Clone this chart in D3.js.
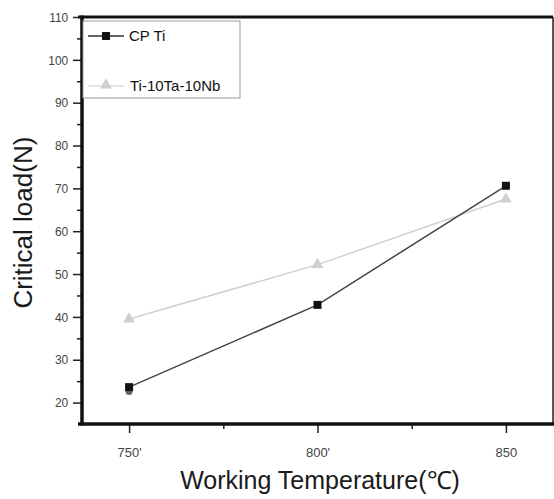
<!DOCTYPE html>
<html>
<head>
<meta charset="utf-8">
<script src="https://cdn.jsdelivr.net/npm/d3@7"></script>
<style>
  body { margin: 0; background: #fff; }
  svg { display: block; font-family: "Liberation Sans", Arial, sans-serif; }
</style>
</head>
<body>
<svg id="chart"></svg>
<script>
const temps = [750, 800, 850];
const tempLabels = ["750'", "800'", "850"];
const cpTi = [23.6, 42.8, 70.6];
const tiTaNb = [39.5, 52.2, 67.5];
const hiddenPoint = [750, 22.6];
const yTicks = [20, 30, 40, 50, 60, 70, 80, 90, 100, 110];

const width = 554, height = 499;
const margin = { top: 17, left: 82, bottom: 75, right: 1 };
const iwidth = width - margin.left - margin.right;
const iheight = height - margin.top - margin.bottom;

const svg = d3.select("#chart").attr("width", width).attr("height", height);
const g = svg.append("g").attr("transform", `translate(${margin.left},${margin.top})`);

const x = d3.scaleLinear().domain([737.5, 862.5]).range([0, iwidth]);
const y = d3.scaleLinear().domain([15, 110]).range([iheight, 0]);

// frame
g.append("line").attr("x1", iwidth).attr("x2", iwidth).attr("y1", 0).attr("y2", iheight)
  .attr("stroke", "#222").attr("stroke-width", 1.5);
g.append("line").attr("x1", -4).attr("x2", iwidth).attr("y1", 0).attr("y2", 0)
  .attr("stroke", "#111").attr("stroke-width", 3);

// y axis
const yAxis = g.append("g")
  .call(d3.axisLeft(y).tickValues(yTicks).tickSize(9).tickPadding(4).tickFormat(d3.format("d")));
yAxis.select(".domain").remove();
yAxis.selectAll(".tick line").attr("stroke", "#222").attr("stroke-width", 1.5);
yAxis.selectAll(".tick text").attr("fill", "#444").style("font-size", "13px")
  .attr("transform", "scale(0.92,1)").attr("x", -15);
g.append("g")
  .call(d3.axisLeft(y).tickValues(d3.range(25, 110, 10)).tickSize(5).tickFormat(""))
  .call(s => s.select(".domain").remove())
  .selectAll(".tick line").attr("stroke", "#222").attr("stroke-width", 1.5);
g.append("line").attr("x1", 0).attr("x2", 0).attr("y1", -1.5).attr("y2", iheight + 1.5)
  .attr("stroke", "#111").attr("stroke-width", 3.5);

// x axis
const xAxis = g.append("g").attr("transform", `translate(0,${iheight})`)
  .call(d3.axisBottom(x).tickValues(temps).tickSize(9).tickPadding(15)
    .tickFormat((d, i) => tempLabels[i]));
xAxis.select(".domain").remove();
xAxis.selectAll(".tick line").attr("stroke", "#222").attr("stroke-width", 1.5);
xAxis.selectAll(".tick text").attr("fill", "#444").style("font-size", "13px");
g.append("g").attr("transform", `translate(0,${iheight})`)
  .call(d3.axisBottom(x).tickValues([775, 825]).tickSize(5).tickFormat(""))
  .call(s => s.select(".domain").remove())
  .selectAll(".tick line").attr("stroke", "#222").attr("stroke-width", 1.5);
g.append("line").attr("x1", -4).attr("x2", iwidth + 1).attr("y1", iheight).attr("y2", iheight)
  .attr("stroke", "#111").attr("stroke-width", 3.5);

// axis titles
svg.append("text").attr("x", 320).attr("y", 489)
  .attr("text-anchor", "middle").style("font-size", "25px").attr("fill", "#1a1a1a")
  .text("Working Temperature(℃)");
svg.append("text").attr("transform", `translate(32,${margin.top + y(62)}) rotate(-90)`)
  .attr("text-anchor", "middle").style("font-size", "26px").attr("fill", "#1a1a1a")
  .text("Critical load(N)");

// series
const line = d3.line().x((d, i) => x(temps[i])).y(d => y(d));
g.append("path").datum(tiTaNb).attr("d", line).attr("fill", "none")
  .attr("stroke", "#d0d0d0").attr("stroke-width", 1.5);
g.append("path").datum(cpTi).attr("d", line).attr("fill", "none")
  .attr("stroke", "#444").attr("stroke-width", 1.5);

g.append("circle").attr("cx", x(hiddenPoint[0])).attr("cy", y(hiddenPoint[1]))
  .attr("r", 3.5).attr("fill", "#666");

const tri = d3.symbol().type(d3.symbolTriangle).size(60);
g.selectAll(".tri").data(tiTaNb).enter().append("path")
  .attr("transform", (d, i) => `translate(${x(temps[i])},${y(d)})`)
  .attr("d", tri).attr("fill", "#cfcfcf");
g.selectAll(".sq").data(cpTi).enter().append("rect")
  .attr("x", (d, i) => x(temps[i]) - 4).attr("y", d => y(d) - 4)
  .attr("width", 8).attr("height", 8).attr("fill", "#111");

// legend
const lg = g.append("g");
lg.append("rect").attr("x", 1).attr("y", 4).attr("width", 157).attr("height", 77)
  .attr("fill", "#fff").attr("stroke", "#999").attr("stroke-width", 1);
lg.append("line").attr("x1", 6).attr("x2", 42).attr("y1", 19).attr("y2", 19)
  .attr("stroke", "#333").attr("stroke-width", 1.5);
lg.append("rect").attr("x", 20).attr("y", 15).attr("width", 8).attr("height", 8).attr("fill", "#111");
lg.append("text").attr("x", 47).attr("y", 24).style("font-size", "15px").attr("fill", "#111")
  .text("CP Ti");
lg.append("line").attr("x1", 6).attr("x2", 42).attr("y1", 69).attr("y2", 69)
  .attr("stroke", "#ddd").attr("stroke-width", 1.5);
lg.append("path").attr("transform", "translate(24,68)").attr("d", tri).attr("fill", "#cfcfcf");
lg.append("text").attr("x", 48).attr("y", 74).style("font-size", "15px").attr("fill", "#111")
  .text("Ti-10Ta-10Nb");
</script>
</body>
</html>
